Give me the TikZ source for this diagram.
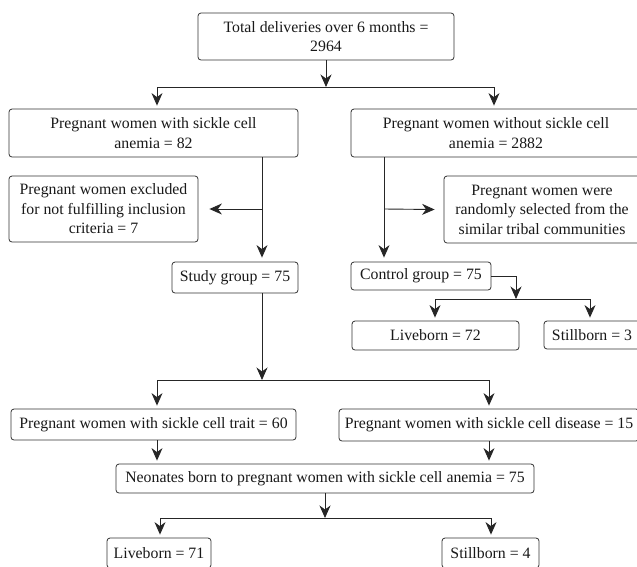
\documentclass[tikz,border=0pt]{standalone}
\usepackage{fontspec}
\setmainfont{Liberation Serif}
\usetikzlibrary{arrows.meta}
\begin{document}
\begin{tikzpicture}[x=1pt,y=-1pt,
  box/.style={draw=black!80, line width=0.8pt, rounded corners=3pt, fill=white,
    align=center, inner sep=0pt, font=\fontsize{15.8}{19.5}\selectfont, text=black!90},
  arr/.style={draw=black!85, line width=0.9pt, -{Stealth[length=12.5pt,width=11pt,inset=4pt]}},
  ln/.style={draw=black!85, line width=0.9pt}]
\useasboundingbox (0,0) rectangle (637,566);
\fill[white] (0,0) rectangle (637,566);
\clip (0,0) rectangle (637,566);

% nodes
\node[box, minimum width=256pt, minimum height=47pt] (top) at (326,36.5) {Total deliveries over 6 months =\\2964};
\node[box, minimum width=289pt, minimum height=48pt] (A) at (153.5,133) {Pregnant women with sickle cell\\anemia = 82};
\node[box, minimum width=290pt, minimum height=48pt] (B) at (496,133) {Pregnant women without sickle cell\\anemia = 2882};
\node[box, minimum width=189pt, minimum height=66pt] (excl) at (103.5,209) {Pregnant women excluded\\for not fulfilling inclusion\\criteria = 7};
\node[box, minimum width=196pt, minimum height=67pt] (rand) at (542,209.5) {Pregnant women were\\randomly selected from the\\similar tribal communities};
\node[box, minimum width=126pt, minimum height=31pt] (study) at (235,277.5) {Study group = 75};
\node[box, minimum width=140pt, minimum height=28pt] (control) at (421,276) {Control group = 75};
\node[box, minimum width=167pt, minimum height=29pt] (live72) at (435.5,335.5) {Liveborn = 72};
\node[box, minimum width=96pt, minimum height=28pt] (still3) at (592,335) {Stillborn = 3};
\node[box, minimum width=285pt, minimum height=31pt] (trait) at (153.5,424.5) {Pregnant women with sickle cell trait = 60};
\node[box, minimum width=300pt, minimum height=32pt] (disease) at (489,425) {Pregnant women with sickle cell disease = 15};
\node[box, minimum width=418pt, minimum height=29pt] (neo) at (325,478.5) {Neonates born to pregnant women with sickle cell anemia = 75};
\node[box, minimum width=104pt, minimum height=30pt] (live71) at (159,553) {Liveborn = 71};
\node[box, minimum width=97pt, minimum height=30pt] (still4) at (490.5,553) {Stillborn = 4};

% junction coordinates
\coordinate (j1) at (326,87);
\coordinate (j1L) at (157,87);
\coordinate (j1R) at (494,87);
\coordinate (cA) at (262,0);
\coordinate (cB) at (384,0);
\coordinate (ex) at (262,209);
\coordinate (rx) at (384,209);
\coordinate (c2) at (516,299);
\coordinate (c2L) at (435,299);
\coordinate (c2R) at (590,299);
\coordinate (j2) at (262,380);
\coordinate (j2L) at (157,380);
\coordinate (j2R) at (489,380);
\coordinate (j3) at (325,518);
\coordinate (j3L) at (160,518);
\coordinate (j3R) at (491,518);

% connectors
\draw[arr] (top) -- (j1);
\draw[ln] (j1L) -- (j1R);
\draw[arr, shorten >=3pt] (j1L) -- (j1L |- A.north);
\draw[arr, shorten >=3pt] (j1R) -- (j1R |- B.north);

\draw[arr, shorten >=4pt] (cA |- A.south) -- (cA |- study.north);
\draw[arr] (ex) -- ([xshift=11pt]excl.east);
\draw[arr, shorten >=4pt] (cB |- B.south) -- (cB |- control.north);
\draw[arr] (rx) -- ([xshift=-9pt]rand.west);

\draw[arr] (control.east) -| (c2);
\draw[ln] (c2L) -- (c2R);
\draw[arr, shorten >=3pt] (c2L) -- (c2L |- live72.north);
\draw[arr, shorten >=3pt] (c2R) -- (c2R |- still3.north);

\draw[arr] (cA |- study.south) -- (j2);
\draw[ln] (j2L) -- (j2R);
\draw[arr, shorten >=3pt] (j2L) -- (j2L |- trait.north);
\draw[arr, shorten >=3pt] (j2R) -- (j2R |- disease.north);
\draw[arr, shorten >=3pt] (j2L |- trait.south) -- (j2L |- neo.north);
\draw[arr, shorten >=3pt] (j2R |- disease.south) -- (j2R |- neo.north);

\draw[arr] (neo) -- (j3);
\draw[ln] (j3L) -- (j3R);
\draw[arr, shorten >=3pt] (j3L) -- (j3L |- live71.north);
\draw[arr, shorten >=3pt] (j3R) -- (j3R |- still4.north);
\end{tikzpicture}
\end{document}
